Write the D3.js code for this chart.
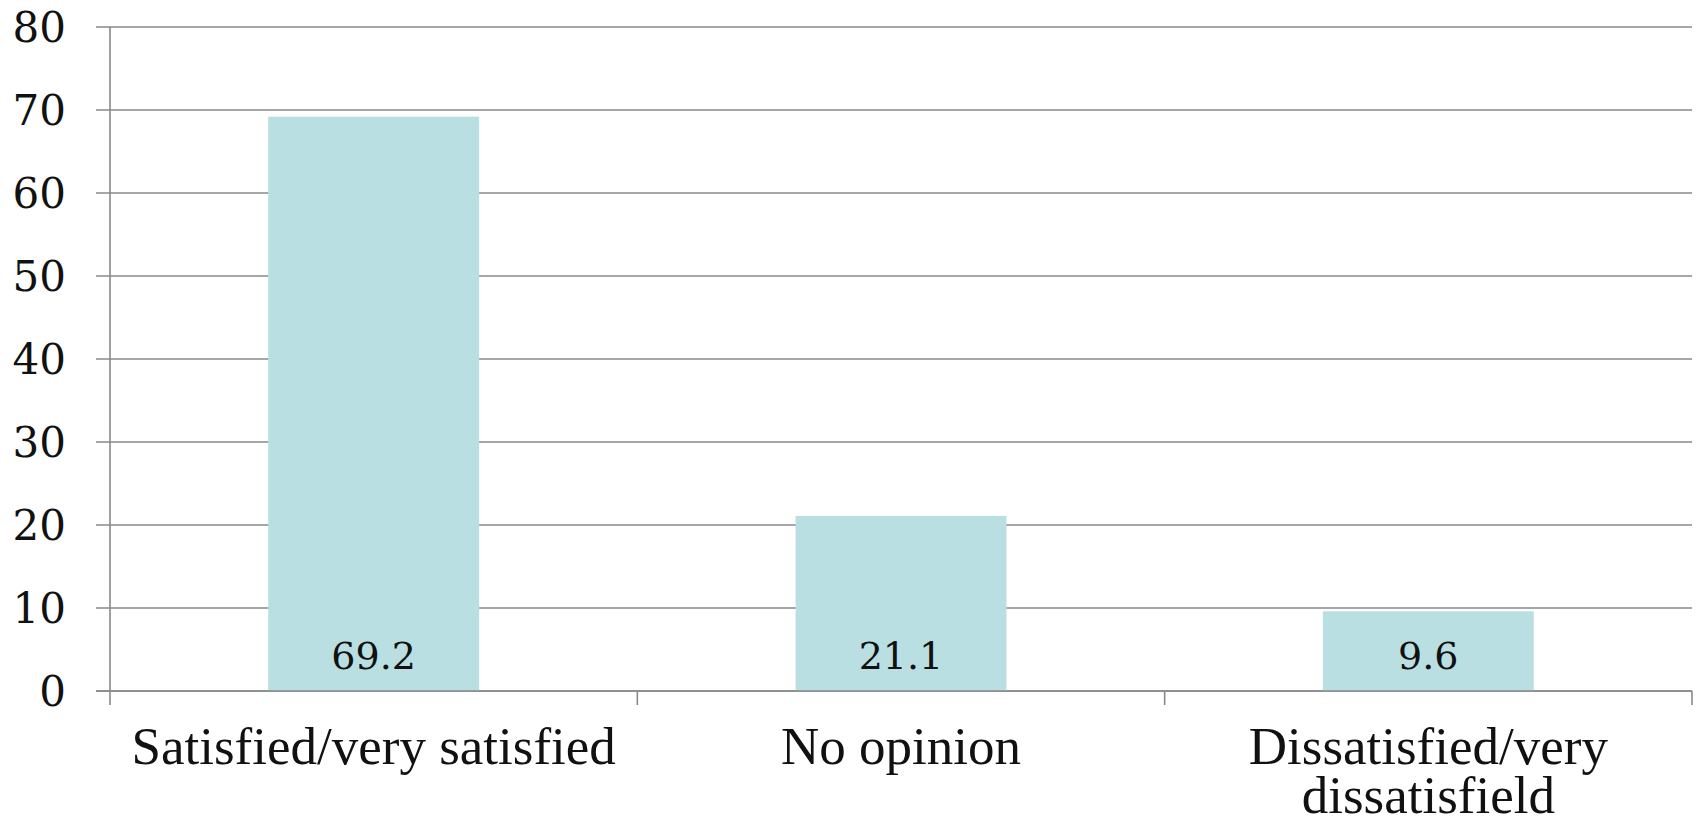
<!DOCTYPE html>
<html>
<head>
<meta charset="utf-8">
<script src="https://cdn.jsdelivr.net/npm/d3@7/dist/d3.min.js"></script>
<style>
  html, body { margin: 0; padding: 0; background: #ffffff; }
  svg { display: block; }
</style>
</head>
<body>
<svg id="chart" width="1698" height="825"></svg>
<script>
// Survey responses: share of respondents (%)
const categories = ["Satisfied/very satisfied", "No opinion", "Dissatisfied/very dissatisfield"];
const categoryLines = [["Satisfied/very satisfied"], ["No opinion"], ["Dissatisfied/very", "dissatisfield"]];
const values = [69.2, 21.1, 9.6];
const yTicks = [0, 10, 20, 30, 40, 50, 60, 70, 80];

const width = 1698, height = 825;
const margin = { top: 27, right: 6, bottom: 134, left: 110 };
const innerW = width - margin.left - margin.right;
const innerH = height - margin.top - margin.bottom;
const tickLen = 14;
const gridColor = "#898989";

const svg = d3.select("#chart");
const g = svg.append("g").attr("transform", `translate(${margin.left},${margin.top})`);

const x = d3.scaleBand().domain(categories).range([0, innerW]).paddingInner(0.6).paddingOuter(0.3);
const y = d3.scaleLinear().domain([0, 80]).range([innerH, 0]);

// horizontal gridlines, extending left as tick marks
g.append("g").selectAll("line").data(yTicks).join("line")
  .attr("x1", -tickLen).attr("x2", innerW)
  .attr("y1", d => y(d)).attr("y2", d => y(d))
  .attr("stroke", gridColor).attr("stroke-width", 1.6);

// bars
g.append("g").selectAll("rect").data(values).join("rect")
  .attr("x", (d, i) => x(categories[i]))
  .attr("width", x.bandwidth())
  .attr("y", d => y(d))
  .attr("height", d => y(0) - y(d))
  .attr("fill", "#badfe2");

// baseline and y axis line
g.append("line").attr("x1", -tickLen).attr("x2", innerW).attr("y1", y(0)).attr("y2", y(0))
  .attr("stroke", gridColor).attr("stroke-width", 1.6);
g.append("line").attr("x1", 0).attr("x2", 0).attr("y1", y(80)).attr("y2", y(0) + tickLen)
  .attr("stroke", gridColor).attr("stroke-width", 1.6);

// category separator ticks below the baseline
const step = x.step();
g.append("g").selectAll("line").data(d3.range(1, categories.length + 1)).join("line")
  .attr("x1", d => d * step).attr("x2", d => d * step)
  .attr("y1", y(0)).attr("y2", y(0) + tickLen)
  .attr("stroke", gridColor).attr("stroke-width", 1.6);

// y tick labels
g.append("g").selectAll("text").data(yTicks).join("text")
  .attr("x", -44).attr("y", d => y(d) + 15)
  .attr("text-anchor", "end")
  .attr("font-family", "'DejaVu Serif', serif")
  .attr("font-size", 42)
  .attr("fill", "#111")
  .text(d => d);

// value labels inside the bars
g.append("g").selectAll("text").data(values).join("text")
  .attr("x", (d, i) => x(categories[i]) + x.bandwidth() / 2)
  .attr("y", y(0) - 22)
  .attr("text-anchor", "middle")
  .attr("font-family", "'DejaVu Serif', serif")
  .attr("font-size", 38)
  .attr("fill", "#111")
  .text(d => d.toFixed(1));

// category labels
const cat = g.append("g").selectAll("text").data(categories).join("text")
  .attr("x", d => x(d) + x.bandwidth() / 2)
  .attr("y", y(0) + 73)
  .attr("text-anchor", "middle")
  .attr("font-family", "'Liberation Serif', 'Times New Roman', serif")
  .attr("font-size", 53)
  .attr("fill", "#111");
cat.each(function (d, i) {
  d3.select(this).selectAll("tspan").data(categoryLines[i]).join("tspan")
    .attr("x", x(d) + x.bandwidth() / 2)
    .attr("dy", (t, j) => j === 0 ? 0 : 49)
    .text(t => t);
});
</script>
</body>
</html>
